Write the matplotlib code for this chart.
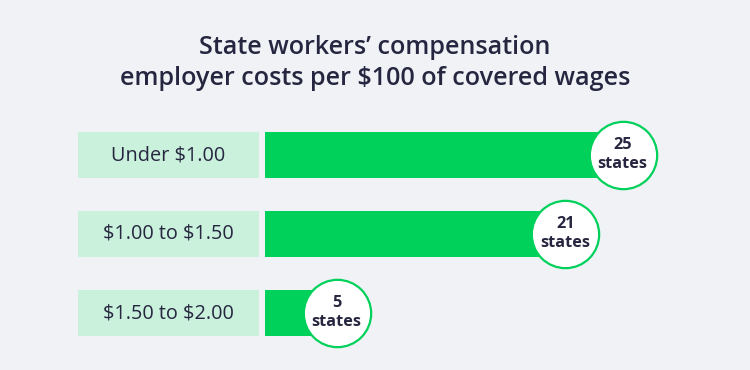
import matplotlib.pyplot as plt
from matplotlib.patches import Rectangle

categories = ['Under $1.00', '$1.00 to $1.50', '$1.50 to $2.00']
states = [25, 21, 5]
title = 'State workers\u2019 compensation\nemployer costs per $100 of covered wages'

BG = '#f0f2f6'
LABEL_BG = '#c9f1dc'
GREEN = '#00d15a'
TEXT = '#262640'

plt.rcParams['font.family'] = ['Open Sans', 'DejaVu Sans']
plt.rcParams['text.parse_math'] = False

fig = plt.figure(figsize=(7.5, 3.7), dpi=100, facecolor=BG)
ax = fig.add_axes([0, 0, 1, 1])
ax.set_facecolor(BG)

# x in states, 0 sits at pixel 265, ~14.3 px per state
px = 14.3
ax.set_xlim(-265 / px, (750 - 265) / px)
ax.set_ylim(370, 0)
ax.axis('off')

row_y = [155, 234, 313]
bar_h = 46

for i, cat in enumerate(categories):
    y = row_y[i]
    # label box (pixel positions converted to data)
    ax.add_patch(Rectangle(((78 - 265) / px, y - bar_h / 2), (259 - 78) / px, bar_h,
                           facecolor=LABEL_BG, edgecolor='none'))
    ax.text((168 - 265) / px, y, cat, ha='center', va='center',
            fontsize=14.3, color=TEXT)

ax.barh(row_y, states, height=bar_h, left=0, color=GREEN, zorder=2)
ax.scatter(states, row_y, s=2350, facecolor='white', edgecolor=GREEN,
           linewidth=1.6, zorder=3)
for v, y in zip(states, row_y):
    ax.text(v, y - 10, str(v), ha='center', va='center', fontsize=11.7,
            fontweight='bold', color=TEXT, zorder=4)
    ax.text(v, y + 9, 'states', ha='center', va='center', fontsize=11.7,
            fontweight='bold', color=TEXT, zorder=4)

fig.text(0.5, 1 - 63 / 370, title, ha='center', va='center', fontsize=18.1,
         fontweight=600, color=TEXT, linespacing=1.3)

fig.savefig('out.png', dpi=100, facecolor=BG)
